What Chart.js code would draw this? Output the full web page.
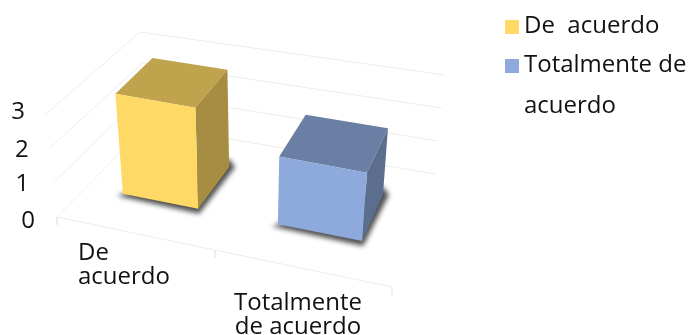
<!DOCTYPE html>
<html>
<head>
<meta charset="utf-8">
<style>
	body { margin: 0; background: #fff; }
	canvas { display: block; }
</style>
<script src="https://cdn.jsdelivr.net/npm/chart.js@4"></script>
</head>
<body>
<canvas id="myChart" width="688" height="335"></canvas>
<script>
// datos
const categories = [['De', 'acuerdo'], ['Totalmente', 'de acuerdo']];
const values = [3, 2];
const yTicks = [0, 1, 2, 3];
const legendLabels = [['De  acuerdo'], ['Totalmente de', 'acuerdo']];
const barColors = ['#FFD966', '#8EA9DB'];

// esquinas de la caja 3D en pantalla: suelo y techo, delante y detras
const floorFront = [[57, 217], [392, 287]];
const floorBack = [[147, 125], [435, 174]];
const topFront = [[46, 114], [402, 182]];
const topBack = [[140, 32], [445, 75]];
const perspective = 1.119;
const barDepth = [0.33, 0.75];
const gridColor = '#EDEDED';
const textFont = '24px "Open Sans"';
const textColor = '#111';

function lerp(a, b, t) {
	return [a[0] + (b[0] - a[0]) * t, a[1] + (b[1] - a[1]) * t];
}

// u: a lo largo del eje x, d: profundidad, v: altura (todo de 0 a 1)
function project(u, d, v) {
	const p = u / (u + perspective * (1 - u));
	const low = lerp(lerp(floorFront[0], floorFront[1], p), lerp(floorBack[0], floorBack[1], p), d);
	const high = lerp(lerp(topFront[0], topFront[1], p), lerp(topBack[0], topBack[1], p), d);
	return lerp(low, high, v);
}

function fillPoly(ctx, points, color) {
	ctx.fillStyle = color;
	ctx.beginPath();
	points.forEach((p, i) => i ? ctx.lineTo(p[0], p[1]) : ctx.moveTo(p[0], p[1]));
	ctx.closePath();
	ctx.fill();
}

function linePath(ctx, points) {
	ctx.strokeStyle = gridColor;
	ctx.lineWidth = 1;
	ctx.beginPath();
	points.forEach((p, i) => i ? ctx.lineTo(p[0], p[1]) : ctx.moveTo(p[0], p[1]));
	ctx.stroke();
}

function shade(hex, k) {
	const n = parseInt(hex.slice(1), 16);
	const c = [n >> 16, (n >> 8) & 255, n & 255].map(x => Math.round(x * k));
	return 'rgb(' + c.join(',') + ')';
}

const box3d = {
	id: 'box3d',
	beforeDatasetsDraw(chart) {
		const ctx = chart.ctx;
		const x = chart.scales.x;
		const y = chart.scales.y;
		const toU = px => (px - x.left) / x.width;
		const toV = py => (y.bottom - py) / y.height;

		ctx.save();
		// rejilla: pared izquierda y pared del fondo
		y.ticks.forEach(t => {
			const v = toV(y.getPixelForValue(t.value));
			linePath(ctx, [project(0, 0, v), project(0, 1, v), project(1, 1, v)]);
		});
		linePath(ctx, [project(0, 0, 0), project(1, 0, 0)]);

		// marcas del eje x
		ctx.lineWidth = 2;
		[0, 0.5, 1].forEach(u => {
			const p = project(u, 0, 0);
			ctx.strokeStyle = gridColor;
			ctx.beginPath();
			ctx.moveTo(p[0], p[1]);
			ctx.lineTo(p[0], p[1] + 8);
			ctx.stroke();
		});

		// barras
		chart.getDatasetMeta(0).data.forEach((bar, i) => {
			const u0 = toU(bar.x - bar.width / 2);
			const u1 = toU(bar.x + bar.width / 2);
			const v = toV(bar.y);
			const d0 = barDepth[0];
			const d1 = barDepth[1];
			const color = barColors[i];

			// sombra sobre el suelo
			ctx.save();
			ctx.filter = 'blur(2.5px)';
			const a = project(u0, d0, 0);
			const b = project(u1, d0, 0);
			const c = project(u1, d1, 0);
			fillPoly(ctx, [
				[a[0] - 6, a[1] + 2],
				[b[0] + 1, b[1] + 5],
				[c[0] + 6, c[1]],
				[c[0], c[1] - 8]
			], '#505050');
			ctx.restore();

			fillPoly(ctx, [project(u0, d0, v), project(u1, d0, v), project(u1, d1, v), project(u0, d1, v)], shade(color, 0.75));
			fillPoly(ctx, [project(u1, d0, 0), project(u1, d1, 0), project(u1, d1, v), project(u1, d0, v)], shade(color, 0.65));
			fillPoly(ctx, [project(u0, d0, 0), project(u1, d0, 0), project(u1, d0, v), project(u0, d0, v)], color);
		});

		// textos
		ctx.font = textFont;
		ctx.fillStyle = textColor;
		ctx.textBaseline = 'alphabetic';

		// eje y, desplazado a la izquierda de la pared
		ctx.textAlign = 'right';
		const tickNudge = [[-22, 11], [-24, 8], [-21, 9], [-21, 5]];
		y.ticks.forEach((t, i) => {
			const p = project(0, 0, toV(y.getPixelForValue(t.value)));
			ctx.fillText(String(t.value), p[0] + tickNudge[i][0], p[1] + tickNudge[i][1]);
		});

		// eje x
		const labelPos = [[78, 260, 'left'], [298, 310, 'center']];
		categories.forEach((lines, i) => {
			ctx.textAlign = labelPos[i][2];
			lines.forEach((line, k) => ctx.fillText(line, labelPos[i][0], labelPos[i][1] + k * 23.5));
		});

		// leyenda
		const legendY = [33, 72];
		ctx.textAlign = 'left';
		legendLabels.forEach((lines, i) => {
			ctx.fillStyle = barColors[i];
			ctx.fillRect(505, legendY[i] - 13, 14, 14);
			ctx.fillStyle = textColor;
			lines.forEach((line, k) => ctx.fillText(line, 524, legendY[i] + k * 41));
		});
		ctx.restore();
		return false;
	}
};

const myChart = new Chart(document.getElementById('myChart').getContext('2d'), {
	type: 'bar',
	data: {
		labels: categories,
		datasets: [{
			data: values,
			backgroundColor: barColors,
			barPercentage: 0.5,
			categoryPercentage: 1
		}]
	},
	plugins: [box3d],
	options: {
		responsive: false,
		animation: false,
		layout: { padding: 0 },
		plugins: {
			legend: { display: false },
			tooltip: { enabled: false }
		},
		scales: {
			x: { display: false },
			y: {
				display: false,
				min: yTicks[0],
				max: yTicks[yTicks.length - 1],
				ticks: { stepSize: 1 }
			}
		}
	}
});
</script>
</body>
</html>
